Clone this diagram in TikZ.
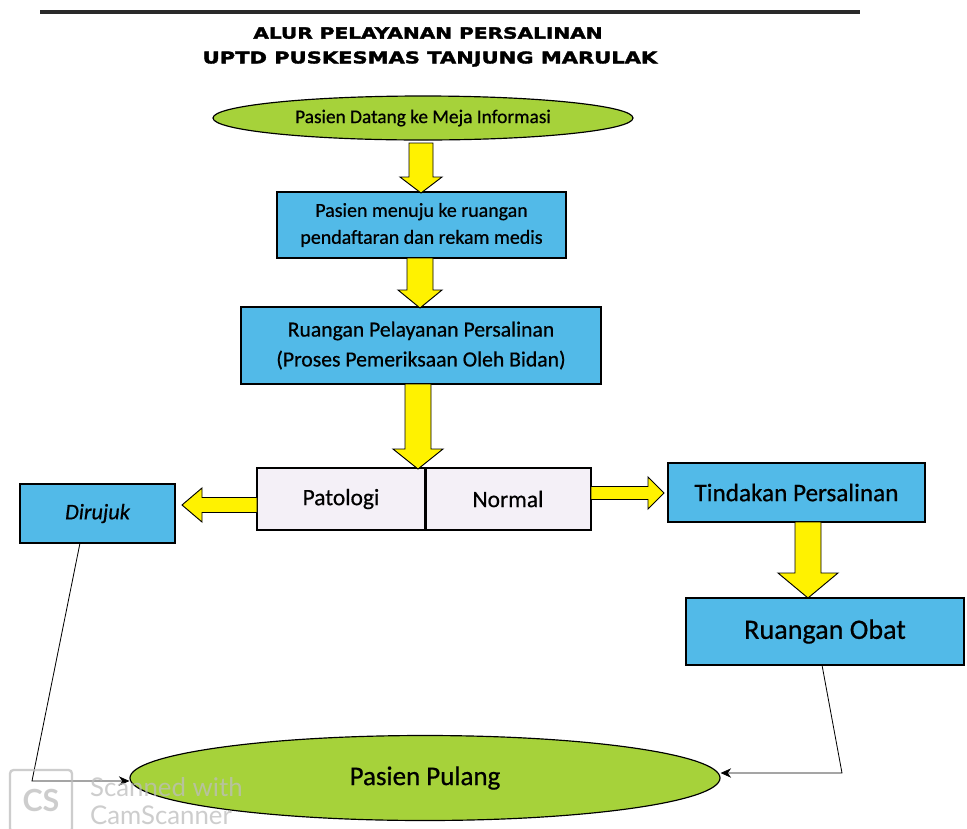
\documentclass[tikz,border=0pt]{standalone}
\usepackage{fontspec}
\setmainfont{Carlito}[FakeBold=0.6]
\newfontfamily\titlefont[FakeStretch=1.3,FakeBold=2.2]{DejaVu Sans}
\newfontfamily\wmfont{Lato}
\usetikzlibrary{shapes.geometric,arrows.meta,calc}
\definecolor{boxblue}{HTML}{52BAE8}
\definecolor{ellgreen}{HTML}{A6D23A}
\definecolor{arrowyellow}{HTML}{FFF200}
\definecolor{splitfill}{HTML}{F4F0F7}
\definecolor{rulegray}{HTML}{2A2A2A}
\definecolor{wmgray}{HTML}{BDBDBD}
\tikzset{
  bluebox/.style={draw=black, line width=1pt, fill=boxblue, inner sep=0pt, align=center},
  greenell/.style={ellipse, draw=black, line width=1pt, fill=ellgreen, inner sep=0pt},
  splitbox/.style={draw=black, line width=1pt, fill=splitfill, inner sep=0pt},
  yarrow/.style={draw=black, line width=0.8pt, fill=arrowyellow, line join=miter},
  conn/.style={line width=0.7pt, -{Stealth[length=9pt,width=8pt]}},
}
% vertical block arrow: x, ytop, ytip, shaft half, head half, head length
\newcommand\vblockarrow[6]{\filldraw[yarrow] (#1-#4,#2) -- (#1+#4,#2) -- (#1+#4,#3-#6) -- (#1+#5,#3-#6) -- (#1,#3) -- (#1-#5,#3-#6) -- (#1-#4,#3-#6) -- cycle;}
% horizontal block arrow: y, xstart, xtip, shaft half, head half, signed head length
\newcommand\hblockarrow[6]{\filldraw[yarrow] (#2,#1-#4) -- (#3+#6,#1-#4) -- (#3+#6,#1-#5) -- (#3,#1) -- (#3+#6,#1+#5) -- (#3+#6,#1+#4) -- (#2,#1+#4) -- cycle;}
\begin{document}
\begin{tikzpicture}[x=0.03cm, y=-0.03cm]
\useasboundingbox (0,0) rectangle (967,829);
\fill[white] (0,0) rectangle (967,829);

% top rule and title
\draw[rulegray, line width=3pt] (40,12) -- (860,12);
\node (t1) at (428,33) {\titlefont\bfseries\fontsize{13.2}{15}\selectfont ALUR PELAYANAN PERSALINAN};
\node (t2) at (430,59) {\titlefont\bfseries\fontsize{13.8}{15}\selectfont UPTD PUSKESMAS TANJUNG MARULAK};

% nodes
\node[greenell, minimum width=12.6cm, minimum height=1.32cm, font=\fontsize{16.5}{19}\selectfont] (info) at (423,118) {Pasien Datang ke Meja Informasi};
\node[bluebox, minimum width=8.67cm, minimum height=1.98cm, font=\fontsize{17}{23}\selectfont] (daftar) at (421.5,225) {Pasien menuju ke ruangan\\pendaftaran dan rekam medis};
\node[bluebox, minimum width=10.8cm, minimum height=2.31cm, font=\fontsize{18.5}{25.5}\selectfont] (layan) at (421,345.5) {Ruangan Pelayanan Persalinan\\(Proses Pemeriksaan Oleh Bidan)};
\node[splitbox, minimum width=5.04cm, minimum height=1.86cm, font=\fontsize{20}{24}\selectfont] (pat) at (341,499) {Patologi};
\node[splitbox, minimum width=4.98cm, minimum height=1.86cm, font=\fontsize{20}{24}\selectfont] (nor) at (508,499) {Normal};
\draw[line width=1.8pt] (pat.north east) -- (pat.south east);
\node[bluebox, minimum width=4.65cm, minimum height=1.77cm, font=\fontsize{19}{23}\selectfont\itshape] (dir) at (97.5,513.5) {Dirujuk};
\node[bluebox, minimum width=7.71cm, minimum height=1.77cm, font=\fontsize{21.5}{25}\selectfont] (tind) at (796.5,492.5) {Tindakan Persalinan};
\node[bluebox, minimum width=8.34cm, minimum height=2.01cm, font=\fontsize{24}{28}\selectfont] (obat) at (825,631.5) {Ruangan Obat};
\node[greenell, minimum width=17.7cm, minimum height=2.55cm, font=\fontsize{23}{27}\selectfont] (pul) at (425,778) {Pasien Pulang};

% yellow block arrows
\vblockarrow{421}{143}{193}{12}{21}{16}
\vblockarrow{420}{258}{308}{13}{22}{18}
\vblockarrow{418}{384}{469}{13}{25}{20}
\vblockarrow{808}{522}{598}{13}{30}{25}
\hblockarrow{505}{257}{182}{7.5}{17}{20}
\hblockarrow{493}{591}{664}{6.5}{16}{-16}

% connectors
\coordinate (ls) at (80,543);
\coordinate (lb) at (32,781);
\draw[conn] (ls) -- (lb) -- (lb -| pul.west);
\coordinate (rs) at (822,665);
\coordinate (rb) at (842,773);
\draw[conn] (rs) -- (rb) -- (rb -| pul.east);

% scanner watermark
\begin{scope}[opacity=0.75]
\draw[wmgray, line width=2pt, rounded corners=3pt] (10,770) rectangle (72,832);
\node[wmgray, font=\wmfont\bfseries\fontsize{26}{26}\selectfont] (cs) at (41,800) {CS};
\node[wmgray, anchor=west, font=\wmfont\fontsize{22}{24}\selectfont] (wm1) at (86,787) {Scanned with};
\node[wmgray, anchor=west, font=\wmfont\fontsize{22}{24}\selectfont] (wm2) at (86,815) {CamScanner};
\end{scope}
\end{tikzpicture}
\end{document}
